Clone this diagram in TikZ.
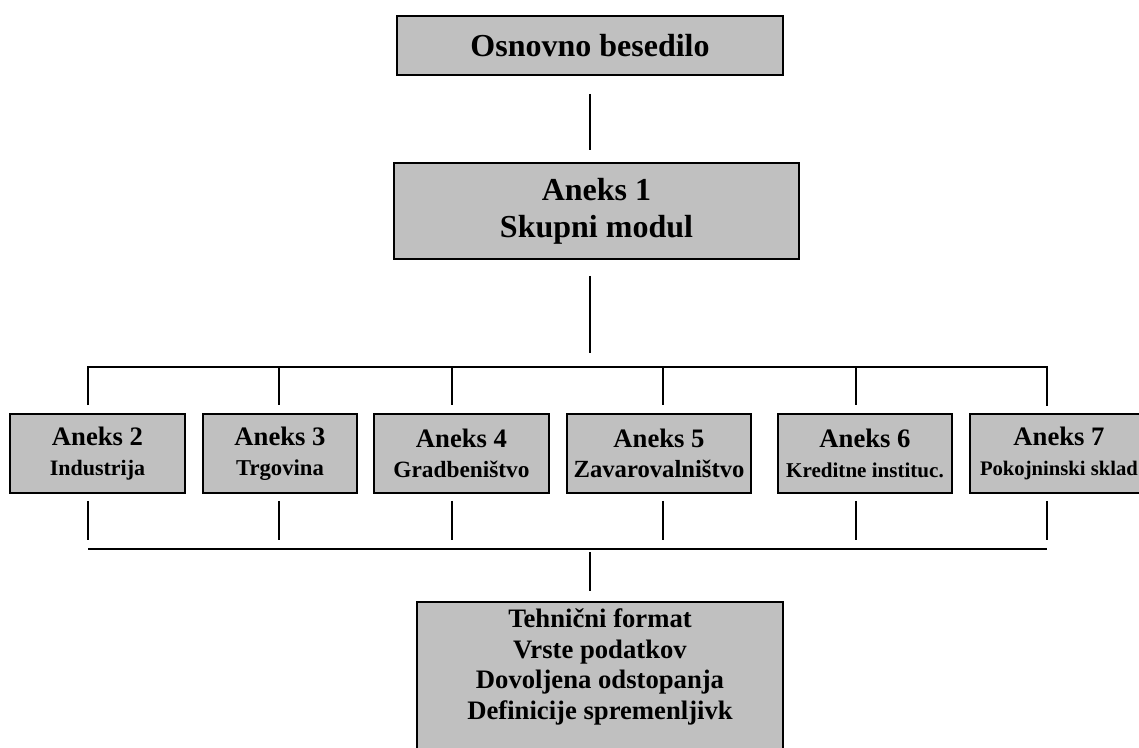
\documentclass[tikz,border=0pt]{standalone}
\usepackage{fontspec}
\setmainfont{Liberation Serif}
\usetikzlibrary{positioning}
\definecolor{boxgray}{RGB}{192,192,192}
\tikzstyle{block} = [rectangle, draw, line width=1.4pt, fill=boxgray, align=center, inner sep=0pt, font=\bfseries\fontsize{20}{22.5}\selectfont, minimum height=59.25pt]
\tikzstyle{line} = [draw, line width=1.1pt]
\newcommand{\subline}[2]{{\fontsize{#1}{22.5}\selectfont #2}}

\begin{document}
\begin{tikzpicture}[x=0.75pt, y=-0.75pt]
            \useasboundingbox (0,0) rectangle (1139,747);
            \clip (0,0) rectangle (1139,747);
            % Nodes
            \node [block, minimum width=289.5pt, minimum height=44.25pt, font=\bfseries\fontsize{24}{27.6}\selectfont] (base) at (590,45.5) {Osnovno besedilo};
            \node [block, minimum width=303.75pt, minimum height=72pt, font=\bfseries\fontsize{24}{27.6}\selectfont] (common) at (596.5,211) {Aneks 1\\Skupni modul};
            \node [block, minimum width=131.25pt] (ind) at (97.5,453.5) {Aneks 2\\\subline{16.5}{Industrija}};
            \node [block, minimum width=115.5pt] (trade) at (280,453.5) {Aneks 3\\\subline{17}{Trgovina}};
            \node [block, minimum width=131.25pt] (constr) at (461.5,453.5) {Aneks 4\\\subline{17.5}{Gradbeništvo}};
            \node [block, minimum width=138pt] (insur) at (659,453.5) {Aneks 5\\\subline{18.5}{Zavarovalništvo}};
            \node [block, minimum width=130.5pt] (credit) at (865,453.5) {Aneks 6\\\subline{15.8}{Kreditne instituc.}};
            \node [block, minimum width=133.5pt] (pension) at (1059,453.5) {Aneks 7\\\subline{15.5}{Pokojninski sklad}};
            \node [block, anchor=north, minimum width=274.5pt, inner ysep=5pt, text depth=40pt, font=\bfseries\fontsize{20}{23}\selectfont] (tech) at (600,601) {Tehnični format\\Vrste podatkov\\Dovoljena odstopanja\\Definicije spremenljivk};

            % Bus points
            \coordinate (upL) at (88,367);
            \coordinate (up3) at (279,367);
            \coordinate (up4) at (452,367);
            \coordinate (up5) at (663,367);
            \coordinate (up6) at (856,367);
            \coordinate (upR) at (1047,367);
            \coordinate (loL) at (88,549);
            \coordinate (lo3) at (279,549);
            \coordinate (lo4) at (452,549);
            \coordinate (lo5) at (663,549);
            \coordinate (lo6) at (856,549);
            \coordinate (loR) at (1047,549);
            \coordinate (loM) at (590,549);

            % Lines
            \path [line, shorten <=13.5pt, shorten >=9pt] (base.south) -- (base.south |- common.north);
            \path [line, shorten <=12pt, shorten >=10.5pt] (base.south |- common.south) -- (base.south |- upL);
            \path [line] (upL |- ind.north) ++(0,-8) -- (upL) -- (upR) -- ++(0,39);
            \path [line, shorten >=6pt] (up3) -- (up3 |- trade.north);
            \path [line, shorten >=6pt] (up4) -- (up4 |- constr.north);
            \path [line, shorten >=6pt] (up5) -- (up5 |- insur.north);
            \path [line, shorten >=6pt] (up6) -- (up6 |- credit.north);
            \path [line, shorten <=5.25pt, shorten >=6.75pt] (loL |- ind.south) -- (loL);
            \path [line, shorten <=5.25pt, shorten >=6.75pt] (lo3 |- trade.south) -- (lo3);
            \path [line, shorten <=5.25pt, shorten >=6.75pt] (lo4 |- constr.south) -- (lo4);
            \path [line, shorten <=5.25pt, shorten >=6.75pt] (lo5 |- insur.south) -- (lo5);
            \path [line, shorten <=5.25pt, shorten >=6.75pt] (lo6 |- credit.south) -- (lo6);
            \path [line, shorten <=5.25pt, shorten >=6.75pt] (loR |- pension.south) -- (loR);
            \path [line] (loL) -- (loR);
            \path [line, shorten <=2.25pt, shorten >=7.5pt] (loM) -- (loM |- tech.north);
        \end{tikzpicture}
\end{document}
